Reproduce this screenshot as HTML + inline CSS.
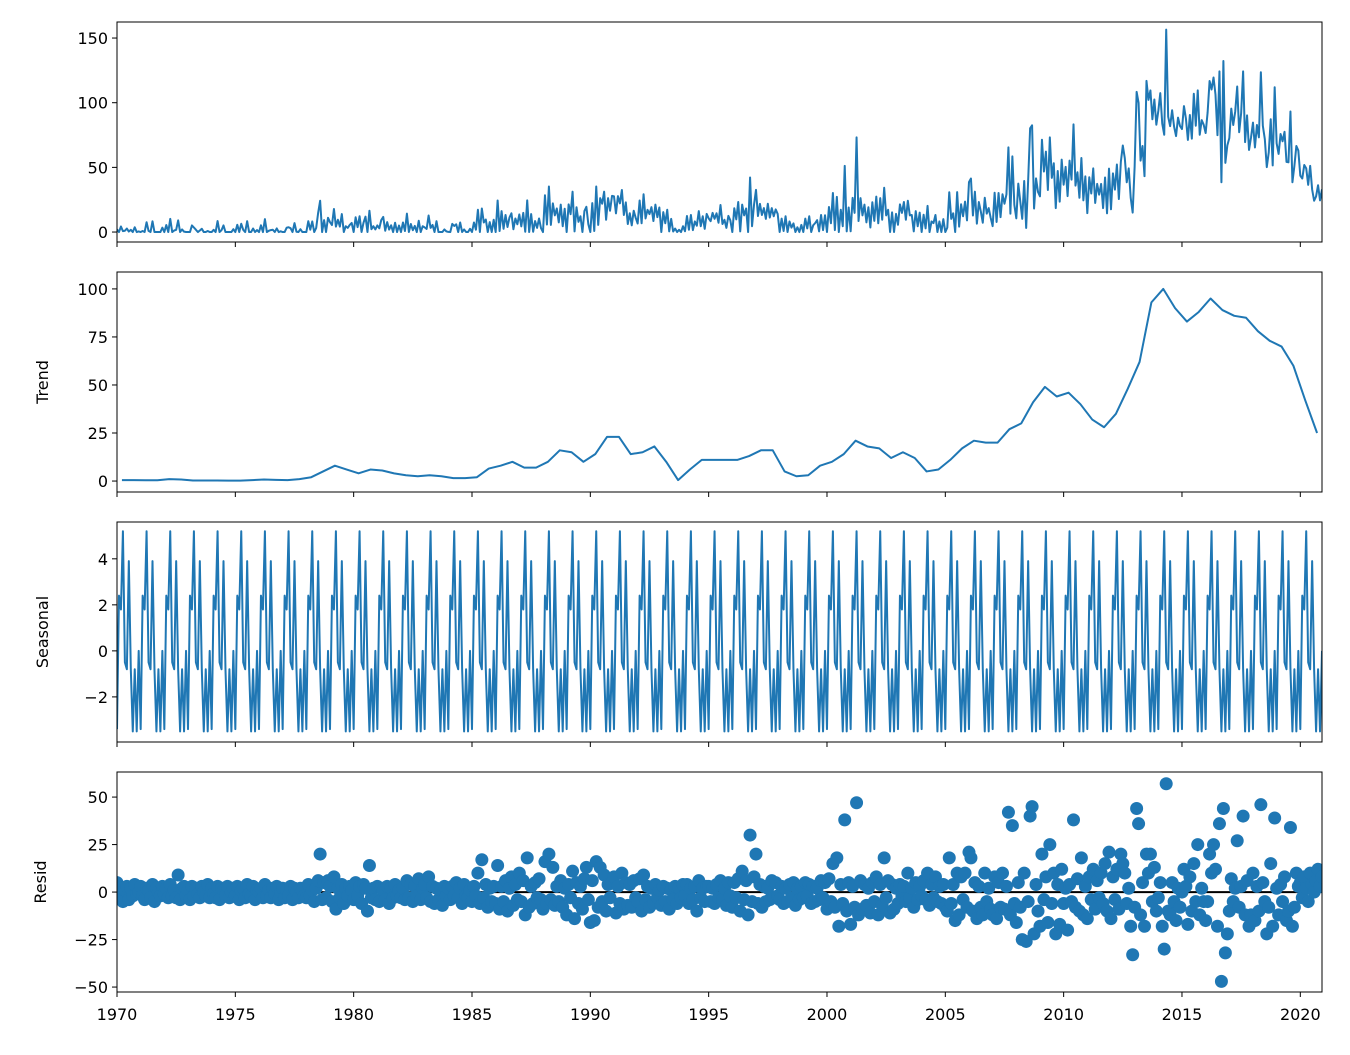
<!DOCTYPE html>
<html><head><meta charset="utf-8">
<style>
html,body{margin:0;padding:0;background:#fff;}
svg text{font-family:"DejaVu Sans","Liberation Sans",sans-serif;font-size:16px;fill:#000;}
</style></head>
<body>
<svg id="chart" width="1350" height="1050" xmlns="http://www.w3.org/2000/svg"></svg>
<script>
const xTickLabels=[1970,1975,1980,1985,1990,1995,2000,2005,2010,2015,2020];
const seasonalPattern=[-3.4,2.4,1.8,5.2,-0.5,-0.8,3.9,-0.8,-3.5,-0.8,-3.5,0.0];
const trendHalfYear=[0.5,0.5,0.4,0.4,1,0.8,0.3,0.3,0.3,0.2,0.2,0.5,0.8,0.6,0.5,1,2,5,8,6,4,6,5.5,4,3,2.5,3,2.5,1.5,1.5,2,6.5,8,10,7,7,10,16,15,10,14,23,23,14,15,18,10,0.5,6,11,11,11,11,13,16,16,5,2.5,3,8,10,14,21,18,17,12,15,12,5,6,11,17,21,20,20,27,30,41,49,44,46,40,32,28,35,48,62,93,100,90,83,88,95,89,86,85,78,73,70,60,42,25];
const residRows=[
[5,-3,2,-5,1,3,-4,2,-2,4,-1,0],
[3,-2,-4,2,1,-3,4,-5,2,0,-2,3],
[-1,2,-3,4,-2,1,-3,9,-4,2,3,-2],
[1,-4,3,-2,2,-1,-3,3,0,-2,4,-3],
[2,-1,-3,3,-4,2,1,-2,3,-3,0,2],
[-2,3,-4,1,2,-3,4,-1,-2,3,-4,1],
[0,2,-3,4,-2,1,-3,2,-1,3,-4,0],
[2,-3,1,-2,3,-4,2,0,-3,2,1,-2],
[-3,4,-2,1,-5,2,6,20,-4,5,-3,6],
[3,-5,8,-9,2,-3,4,-6,2,-2,3,1],
[-4,5,-2,3,-6,4,2,-10,14,-3,2,-4],
[3,-5,2,1,-4,3,-6,2,-3,4,-2,1],
[-3,2,-4,6,-3,4,-5,3,-2,7,-4,2],
[4,-3,8,-5,3,-6,2,-4,1,-7,3,-2],
[2,-4,3,-2,5,-3,2,-6,4,-2,-3,1],
[-5,3,-2,10,-6,17,-3,4,-8,2,-5,3],
[-6,14,-9,3,-5,6,-10,2,8,-7,4,-4],
[10,-5,6,-12,18,-8,3,-6,5,-3,7,-4],
[-9,16,-6,20,-4,13,-7,3,-5,6,-8,2],
[-12,4,-3,11,-14,5,-6,3,-9,7,13,-4],
[-16,6,-15,16,-8,13,-5,9,-10,4,-3,5],
[8,-11,3,-6,10,-9,5,-7,4,-8,6,-3],
[-5,7,-10,9,-4,3,-8,2,-6,4,-3,1],
[-7,3,-5,2,-9,1,-4,3,-6,2,-3,4],
[-2,4,-6,2,-4,3,-10,6,-3,2,-5,3],
[3,-5,2,-6,4,-3,6,-4,2,-7,5,-2],
[-8,5,-3,7,-10,11,-4,6,-12,30,-5,8],
[20,-6,4,-8,3,-5,2,-4,6,-3,5,-2],
[-4,3,-6,2,-5,4,-3,5,-7,2,-4,3],
[-3,5,-2,4,-6,3,-5,2,-4,6,-3,5],
[-9,7,-5,15,-8,18,-18,4,-6,38,-10,5],
[-17,3,-8,47,-12,6,-9,4,-7,2,-11,5],
[-5,8,-12,4,-7,18,-3,6,-11,4,-9,2],
[-6,4,-2,3,-5,10,-3,2,-8,5,-4,3],
[-2,6,-4,10,-7,4,-3,8,-5,3,-6,4],
[-8,-10,18,-6,4,-15,10,-12,8,-4,10,-8],
[21,18,-10,5,-14,3,-8,-12,10,-5,2,-9],
[-12,8,-14,5,-8,10,-9,3,42,-12,35,-6],
[-16,5,-8,-25,10,-26,-5,40,45,-22,4,-10],
[-18,20,-4,8,-16,25,-6,10,-22,4,-17,12],
[-6,2,-20,4,-5,38,-8,7,-10,18,-12,3],
[-14,8,-4,12,-9,6,-3,10,-6,15,-10,21],
[-14,8,-4,12,-9,20,15,10,-6,2,-18,-33],
[-8,44,36,-12,5,-18,20,10,20,-5,13,-10],
[-3,5,-18,-30,57,-10,-12,5,-5,-15,2,-8],
[0,12,3,-17,8,-10,15,-5,25,-12,2,-5],
[-15,-5,20,10,25,12,-18,36,-47,44,-32,-22],
[-10,7,-5,2,27,-8,3,40,-12,6,-18,-12],
[10,-15,3,-10,46,5,-5,-22,-8,15,-18,39],
[2,-12,4,-5,8,-15,-10,34,-18,-8,10,3],
[5,-3,8,2,-5,10,4,0,6,12,3,8]
];

const NS='http://www.w3.org/2000/svg';
const svg=document.getElementById('chart');
const X0=117,X1=1322,T0=1970,T1=1970+611/12;
const xs=t=>X0+(t-T0)/(T1-T0)*(X1-X0);
function mk(tag,attrs,parent){const e=document.createElementNS(NS,tag);for(const k in attrs)e.setAttribute(k,attrs[k]);(parent||svg).appendChild(e);return e;}

const N=612;
const resid=[];residRows.forEach(r=>r.forEach(v=>resid.push(v)));
const seasonal=[],observed=[],times=[];
for(let i=0;i<N;i++){
  times.push(T0+i/12);
  const tr=trendHalfYear[Math.floor(i/6)];
  seasonal.push(seasonalPattern[i%12]);
  observed.push(Math.max(0,tr+seasonalPattern[i%12]+resid[i]));
}
const trendTimes=trendHalfYear.map((v,k)=>T0+(k*6+2.5)/12);

const panels=[
 {name:'observed',top:22,ymin:-7.7,ymax:162.4,ticks:[0,50,100,150],label:null},
 {name:'trend',top:272,ymin:-5.7,ymax:108.8,ticks:[0,25,50,75,100],label:'Trend'},
 {name:'seasonal',top:522,ymin:-3.96,ymax:5.6,ticks:[-2,0,2,4],label:'Seasonal'},
 {name:'resid',top:772,ymin:-52.6,ymax:63.2,ticks:[-50,-25,0,25,50],label:'Resid'}
];
const H=220;
panels.forEach((p,pi)=>{
  const g=mk('g',{});
  
  
  const ys=v=>p.top+H-(v-p.ymin)/(p.ymax-p.ymin)*H;
  p.ys=ys;p.g=g;
  p.ticks.forEach(t=>{
    const y=ys(t);
    mk('line',{x1:X0-5,x2:X0,y1:y,y2:y,stroke:'#000','stroke-width':1},g);
    const tx=mk('text',{x:X0-9,y:y+6,'text-anchor':'end'},g);
    tx.textContent=(t<0?'\u2212'+(-t):String(t));
    
    
  });
  xTickLabels.forEach(t=>{
    const x=xs(t);
    mk('line',{x1:x,x2:x,y1:p.top+H,y2:p.top+H+5,stroke:'#000','stroke-width':1},g);
    if(pi===3){
      const tx=mk('text',{x:x,y:p.top+H+28,'text-anchor':'middle'},g);
      tx.textContent=String(t);
      
      
    }
  });
  if(p.label){
    const cy=p.top+H/2;
    const tx=mk('text',{x:0,y:0,'text-anchor':'middle',transform:`translate(${pi===3?46:48},${cy}) rotate(-90)`},g);
    tx.textContent=p.label;
    
    
  }
});
function path(arrT,arrV,p,name){
  let d='';arrV.forEach((v,i)=>{d+=(i?'L':'M')+xs(arrT[i]).toFixed(2)+','+p.ys(v).toFixed(2);});
  const e=mk('path',{d:d,fill:'none',stroke:'#1f77b4','stroke-width':2,'stroke-linejoin':'round'},p.g);
  
  
}
const clip=(p,id)=>{const c=mk('clipPath',{id:id});mk('rect',{x:X0,y:p.top,width:X1-X0,height:H},c);};
panels.forEach((p,i)=>clip(p,'c'+i));
const gs=panels.map((p,i)=>mk('g',{'clip-path':`url(#c${i})`},p.g));
panels.forEach((p,i)=>{p.g=gs[i];});
path(times,observed,panels[0],'observed-line');
path(trendTimes,trendHalfYear,panels[1],'trend-line');
path(times,seasonal,panels[2],'seasonal-line');
const pr=panels[3];
const zl=mk('line',{x1:X0,x2:X1,y1:pr.ys(0),y2:pr.ys(0),stroke:'#000','stroke-width':2},pr.g);


resid.forEach((v,i)=>{
  const c=mk('circle',{cx:xs(times[i]),cy:pr.ys(v),r:6.5,fill:'#1f77b4'},pr.g);
  
  
});
panels.forEach(p=>{
  const r=mk('rect',{x:X0,y:p.top,width:X1-X0,height:H,fill:'none',stroke:'#000','stroke-width':1});
  
  
});
</script>
</body></html>
